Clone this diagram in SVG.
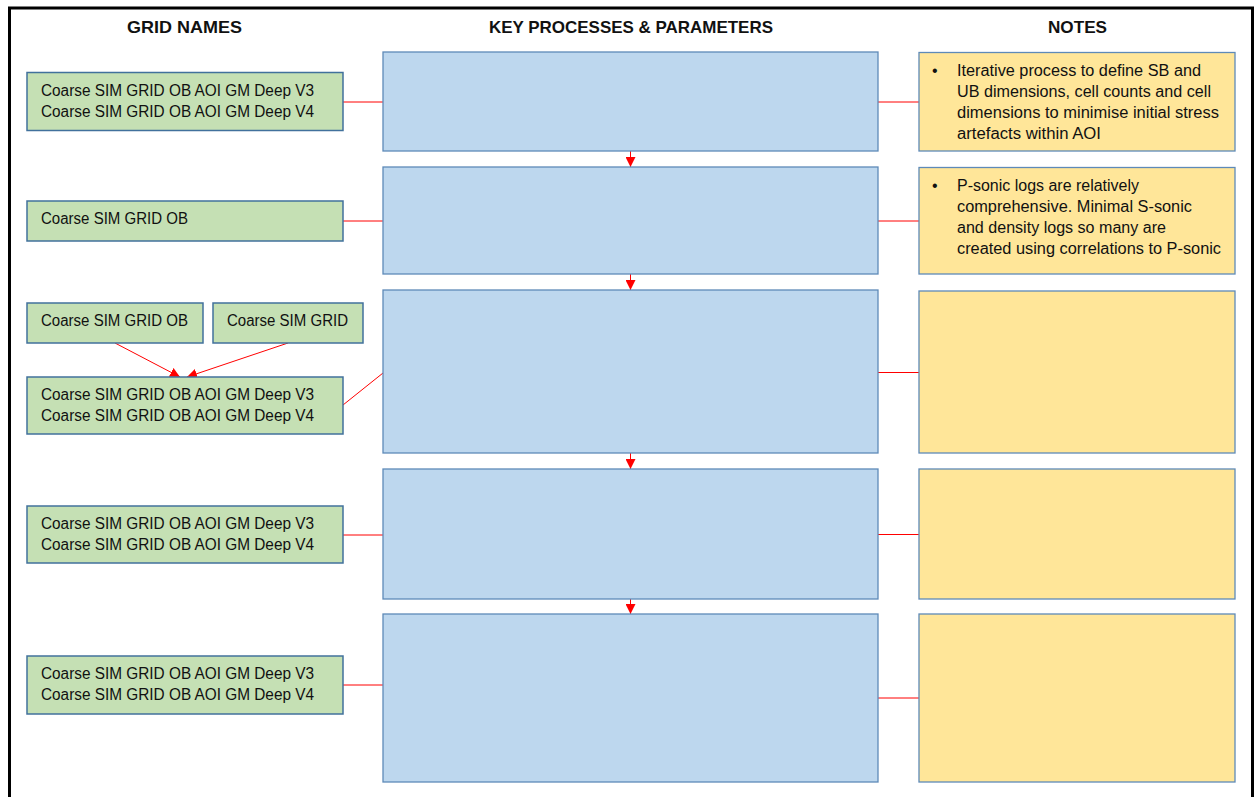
<svg xmlns="http://www.w3.org/2000/svg" width="1254" height="797" viewBox="0 0 1254 797">
<style>
text{font-family:"Liberation Sans",Arial,sans-serif;fill:#111;}
.h{font-size:16.5px;font-weight:bold;}
.t{font-size:16px;}
.g{fill:#C5E0B4;stroke:#41719C;stroke-width:1.5;}
.b{fill:#BDD7EE;stroke:#5E8AB8;stroke-width:1.3;}
.y{fill:#FFE699;stroke:#5E8AB8;stroke-width:1.3;}
.c{stroke:#FF0000;stroke-width:1;fill:none;}
</style>
<defs>
<marker id="ah" viewBox="0 0 10 10" refX="10" refY="5" markerWidth="10" markerHeight="10" markerUnits="userSpaceOnUse" orient="auto">
<path d="M0,0 L10,5 L0,10 z" fill="#FF0000"/>
</marker>
</defs>
<rect x="0" y="0" width="1254" height="797" fill="#fff"/>
<path d="M9.5,800 V8 H1252.5 V800" fill="none" stroke="#000" stroke-width="3"/>
<g id="headers">
<text class="h" x="127" y="33" textLength="115" lengthAdjust="spacingAndGlyphs">GRID NAMES</text>
<text class="h" x="489" y="33" textLength="284" lengthAdjust="spacingAndGlyphs">KEY PROCESSES &amp; PARAMETERS</text>
<text class="h" x="1048" y="33" textLength="59" lengthAdjust="spacingAndGlyphs">NOTES</text>
</g>
<g id="connectors">
<line class="c" x1="343" y1="102" x2="383" y2="102"/>
<line class="c" x1="878" y1="102" x2="919" y2="102"/>
<line class="c" x1="343" y1="221" x2="383" y2="221"/>
<line class="c" x1="878" y1="221" x2="919" y2="221"/>
<line class="c" x1="343" y1="405" x2="383" y2="373"/>
<line class="c" x1="878" y1="372.5" x2="919" y2="372.5"/>
<line class="c" x1="343" y1="535" x2="383" y2="535"/>
<line class="c" x1="878" y1="534.5" x2="919" y2="534.5"/>
<line class="c" x1="343" y1="685" x2="383" y2="685"/>
<line class="c" x1="878" y1="698" x2="919" y2="698"/>
<line class="c" x1="115" y1="343" x2="180" y2="377" marker-end="url(#ah)"/>
<line class="c" x1="288" y1="343" x2="187" y2="377" marker-end="url(#ah)"/>
<line class="c" x1="630.5" y1="151" x2="630.5" y2="167" marker-end="url(#ah)"/>
<line class="c" x1="630.5" y1="274" x2="630.5" y2="290" marker-end="url(#ah)"/>
<line class="c" x1="630.5" y1="453" x2="630.5" y2="469" marker-end="url(#ah)"/>
<line class="c" x1="630.5" y1="599" x2="630.5" y2="614" marker-end="url(#ah)"/>
</g>
<g id="grid1">
<rect class="g" x="27" y="72.5" width="316" height="58"/>
<text class="t" x="41" y="96" textLength="273" lengthAdjust="spacingAndGlyphs">Coarse SIM GRID OB AOI GM Deep V3</text>
<text class="t" x="41" y="117" textLength="273" lengthAdjust="spacingAndGlyphs">Coarse SIM GRID OB AOI GM Deep V4</text>
</g>
<g id="grid2">
<rect class="g" x="27" y="201" width="316" height="40"/>
<text class="t" x="41" y="224" textLength="147" lengthAdjust="spacingAndGlyphs">Coarse SIM GRID OB</text>
</g>
<g id="grid3a">
<rect class="g" x="27" y="303" width="176" height="40"/>
<text class="t" x="41" y="326" textLength="147" lengthAdjust="spacingAndGlyphs">Coarse SIM GRID OB</text>
</g>
<g id="grid3b">
<rect class="g" x="213" y="303" width="150" height="40"/>
<text class="t" x="227" y="326" textLength="121" lengthAdjust="spacingAndGlyphs">Coarse SIM GRID</text>
</g>
<g id="grid3">
<rect class="g" x="27" y="377" width="316" height="57"/>
<text class="t" x="41" y="400" textLength="273" lengthAdjust="spacingAndGlyphs">Coarse SIM GRID OB AOI GM Deep V3</text>
<text class="t" x="41" y="420.5" textLength="273" lengthAdjust="spacingAndGlyphs">Coarse SIM GRID OB AOI GM Deep V4</text>
</g>
<g id="grid4">
<rect class="g" x="27" y="506" width="316" height="57"/>
<text class="t" x="41" y="529" textLength="273" lengthAdjust="spacingAndGlyphs">Coarse SIM GRID OB AOI GM Deep V3</text>
<text class="t" x="41" y="550" textLength="273" lengthAdjust="spacingAndGlyphs">Coarse SIM GRID OB AOI GM Deep V4</text>
</g>
<g id="grid5">
<rect class="g" x="27" y="656" width="316" height="58"/>
<text class="t" x="41" y="679" textLength="273" lengthAdjust="spacingAndGlyphs">Coarse SIM GRID OB AOI GM Deep V3</text>
<text class="t" x="41" y="700" textLength="273" lengthAdjust="spacingAndGlyphs">Coarse SIM GRID OB AOI GM Deep V4</text>
</g>
<g id="process1"><rect class="b" x="383" y="52" width="495" height="99"/></g>
<g id="process2"><rect class="b" x="383" y="167" width="495" height="107"/></g>
<g id="process3"><rect class="b" x="383" y="290" width="495" height="163"/></g>
<g id="process4"><rect class="b" x="383" y="469" width="495" height="130"/></g>
<g id="process5"><rect class="b" x="383" y="614" width="495" height="168"/></g>
<g id="note1">
<rect class="y" x="919" y="52.5" width="316" height="98.5"/>
<text class="t" x="932" y="76">•</text>
<text class="t" x="957" y="76" textLength="244" lengthAdjust="spacingAndGlyphs">Iterative process to define SB and</text>
<text class="t" x="957" y="97" textLength="254" lengthAdjust="spacingAndGlyphs">UB dimensions, cell counts and cell</text>
<text class="t" x="957" y="118" textLength="262" lengthAdjust="spacingAndGlyphs">dimensions to minimise initial stress</text>
<text class="t" x="957" y="139" textLength="144" lengthAdjust="spacingAndGlyphs">artefacts within AOI</text>
</g>
<g id="note2">
<rect class="y" x="919" y="167.5" width="316" height="106.5"/>
<text class="t" x="932" y="191">•</text>
<text class="t" x="957" y="191" textLength="182" lengthAdjust="spacingAndGlyphs">P-sonic logs are relatively</text>
<text class="t" x="957" y="212" textLength="235" lengthAdjust="spacingAndGlyphs">comprehensive. Minimal S-sonic</text>
<text class="t" x="957" y="233" textLength="209" lengthAdjust="spacingAndGlyphs">and density logs so many are</text>
<text class="t" x="957" y="254" textLength="264" lengthAdjust="spacingAndGlyphs">created using correlations to P-sonic</text>
</g>
<g id="note3"><rect class="y" x="919" y="291" width="316" height="162"/></g>
<g id="note4"><rect class="y" x="919" y="469" width="316" height="130"/></g>
<g id="note5"><rect class="y" x="919" y="614" width="316" height="168"/></g>
</svg>
